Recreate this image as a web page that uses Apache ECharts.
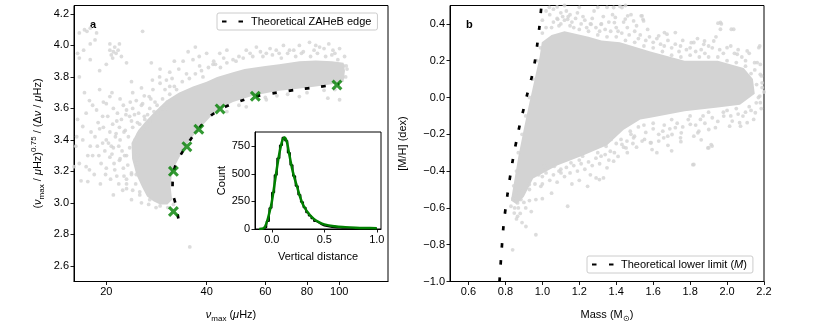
<!DOCTYPE html>
<html>
<head>
<meta charset="utf-8">
<script src="https://cdn.jsdelivr.net/npm/echarts@6/dist/echarts.min.js"></script>
<style>
  html, body { margin: 0; padding: 0; background: #fff; }
  #chart { width: 831px; height: 332px; }
</style>
</head>
<body>
<div id="chart"></div>
<script>
// panel a: nu_max (log) vs (nu_max)^0.75 / dnu
const edgeA = [[32.9, 2.90], [32.4, 2.98], [31.6, 3.08], [31.7, 3.17], [32.4, 3.25], [34.0, 3.33], [36.0, 3.41],
  [38.5, 3.49], [41.5, 3.56], [45.5, 3.61], [51, 3.65], [57, 3.68], [65, 3.70], [75, 3.72], [86, 3.735], [100, 3.755]];
const crossesA = [[31.8, 2.945], [31.8, 3.20], [34.9, 3.357], [37.9, 3.468], [43.9, 3.597], [56.0, 3.677], [98.4, 3.749]];
// outline of the solid part of the cloud
const coreA = [[27.7, 3.01], [29, 2.99], [30.5, 2.99], [31.5, 3.02], [31.2, 3.1], [31.4, 3.17], [32.4, 3.25],
  [33.9, 3.33], [35.9, 3.41], [38.4, 3.48], [41.2, 3.55], [43.8, 3.60], [48, 3.64], [55, 3.68], [65, 3.71],
  [75, 3.725], [85, 3.74], [96, 3.755], [103, 3.77], [104, 3.84], [103, 3.89], [95, 3.90], [85, 3.905], [76, 3.90],
  [66, 3.88], [60, 3.87], [52, 3.85], [48, 3.83], [43, 3.80], [40, 3.77], [36.4, 3.74], [33, 3.70], [30.3, 3.65],
  [28, 3.58], [26.3, 3.52], [24.9, 3.46], [23.8, 3.38], [23.9, 3.28], [24.6, 3.18], [25.6, 3.1], [26.5, 3.04]];
const sparseA = [[16.6, 4.08], [17.2, 4.10], [17.5, 4.09], [17.9, 4.11], [18.7, 4.08], [18.5, 4.035], [17.9, 4.01],
  [17.1, 3.97], [16.4, 3.95], [16.6, 3.92], [17.9, 3.91], [19.1, 3.84], [20.5, 3.97], [21.2, 3.99], [21.4, 3.95],
  [22.2, 3.93], [20.9, 3.92], [23.0, 3.89], [20.0, 3.88], [21.9, 4.01], [20.5, 4.01], [21.0, 3.96], [21.7, 3.97],
  [20.7, 3.94], [25.7, 4.09], [23.8, 3.77], [16.6, 3.80], [19.1, 3.72], [20.5, 3.675], [17.8, 3.65], [17.4, 3.57],
  [18.7, 3.59], [20, 3.63], [17.0, 3.485], [17.9, 3.36], [16.6, 3.25], [17.4, 3.23], [17.6, 3.135], [17.8, 3.21],
  [19.1, 3.47], [20, 3.40], [20.7, 3.36], [21.4, 3.44], [22.2, 3.53], [23.0, 3.59], [24.6, 3.65], [25.7, 3.63],
  [24.8, 3.51], [26.1, 3.53], [20.5, 3.29], [21.9, 3.27], [21.2, 3.21], [23.0, 3.15], [23.8, 3.18], [24.6, 3.25],
  [23.0, 3.09], [26.9, 3.675], [27.6, 3.72], [27.3, 3.89], [28.9, 3.80], [30.3, 3.78], [31.0, 3.74], [32.5, 3.72],
  [34.8, 3.82], [35.2, 3.96], [36.4, 3.91], [38.1, 3.87], [39.0, 3.80], [41.8, 3.88], [43.8, 3.95], [48.0, 3.91],
  [52.6, 3.97], [56.4, 3.99], [60.4, 3.95], [64.7, 3.97], [70.9, 3.97], [75.9, 4.00], [81.4, 4.02], [87.3, 3.99],
  [95.7, 3.97], [100.2, 3.98], [103.7, 3.93], [104.9, 3.87], [102.6, 3.80], [92.4, 3.665], [100.2, 3.655],
  [60.4, 3.655], [52.6, 3.61], [75.9, 3.675], [48.0, 3.76], [35.6, 2.72], [25.2, 3.07], [23.8, 3.02], [16.0, 3.23],
  [16.2, 3.36], [16.4, 3.53], [33, 3.85], [38, 3.93], [42, 3.90], [45, 3.92], [31, 3.83], [29, 3.76], [44, 3.86],
  [50, 3.93], [58, 3.96], [66, 3.95], [78, 3.96], [84, 3.97], [90, 3.98], [97, 3.95],
  [104.5, 3.80], [105.5, 3.85], [30, 3.6], [28.5, 3.57], [27, 3.52], [26.5, 3.47], [25, 3.44], [24.4, 3.40],
  [23.5, 3.35], [23, 3.30], [23.2, 3.24], [23.8, 3.19], [24.5, 3.12], [25.2, 3.05], [27, 3.02], [29, 2.98],
  [26.8, 2.99], [21, 3.35], [22, 3.40], [22.8, 3.46], [21.5, 3.52], [23.5, 3.55], [24, 3.48], [20.5, 3.45],
  [19.5, 3.38], [19, 3.30], [20, 3.22], [21.5, 3.17], [22.5, 3.22], [22, 3.28], [23, 3.12], [24, 3.08],
  [18.5, 3.42], [19.5, 3.55], [21, 3.60], [22.5, 3.62], [24, 3.60], [25, 3.57], [26, 3.55], [27, 3.6], [28, 3.64],
  [29.5, 3.66], [31, 3.69], [26, 3.68], [24, 3.70],
  [18.2, 3.30], [18.8, 3.36], [19.3, 3.25], [19.8, 3.33], [20.3, 3.38], [20.8, 3.31], [21.3, 3.42], [21.8, 3.36],
  [22.3, 3.33], [22.6, 3.45], [21.9, 3.48], [20.9, 3.50], [20.2, 3.55], [19.6, 3.48], [18.9, 3.51], [19.9, 3.18],
  [20.6, 3.15], [21.8, 3.12], [22.6, 3.17], [21.1, 3.25], [22.7, 3.30], [23.3, 3.42], [23.8, 3.52], [22.9, 3.56],
  [21.6, 3.57], [24.3, 3.56], [25.2, 3.50], [25.8, 3.47], [26.6, 3.56], [27.8, 3.58], [28.4, 3.62], [29.2, 3.60],
  [30.5, 3.64], [27.2, 3.66], [25.5, 3.62], [23.6, 3.64], [22.0, 3.66], [20.8, 3.70], [19.6, 3.64], [18.2, 3.62],
  [17.2, 3.70], [17.0, 3.40], [18.0, 3.45], [18.4, 3.18], [19.2, 3.12], [17.6, 3.30], [16.8, 3.14], [16.3, 3.42],
  [22.4, 3.08], [21.0, 3.05], [24.8, 3.30], [24.6, 3.18], [25.5, 3.0], [28.2, 2.97], [30.6, 2.97], [31.8, 2.99],
  [32, 3.74], [33.8, 3.77], [35.5, 3.79], [37, 3.82], [38.6, 3.84], [40.5, 3.86], [42.5, 3.88], [46, 3.89],
  [49, 3.9], [51.5, 3.92], [55, 3.93], [59, 3.93], [63, 3.94], [67, 3.92], [70, 3.95], [74, 3.93], [77, 3.95],
  [82, 3.93], [86, 3.95], [91, 3.93], [95, 3.94], [99, 3.91], [103, 3.87], [31.5, 3.79], [30, 3.72], [34, 3.9],
  [40, 3.95], [46, 3.97], [54, 3.95], [62, 3.98], [68, 4.0], [73, 3.97], [85, 4.0], [93, 4.01], [27.5, 3.78],
  [25.5, 3.73], [29, 3.85], [32, 3.9], [37, 3.99], [60, 3.67], [70, 3.69], [80, 3.70], [90, 3.715], [97, 3.72],
  [65, 3.68], [50, 3.62], [46, 3.58]];

// inset: vertical distance histogram and fit
const histEdges = [-0.1, -0.075, -0.05, -0.025, 0, 0.025, 0.05, 0.075, 0.1, 0.125, 0.15, 0.175, 0.2, 0.225, 0.25,
  0.275, 0.3, 0.325, 0.35, 0.375, 0.4, 0.425, 0.45, 0.475, 0.5, 0.525, 0.55, 0.575, 0.6, 0.625, 0.65, 0.675, 0.7,
  0.725, 0.75, 0.775, 0.8, 0.825, 0.85, 0.875, 0.9, 0.925, 0.95, 0.975, 1.0];
const histCounts = [3, 15, 70, 190, 330, 490, 640, 760, 830, 800, 690, 580, 480, 390, 310, 245, 195, 150, 120, 95,
  70, 55, 40, 30, 25, 20, 16, 14, 12, 11, 10, 9, 8, 8, 7, 7, 6, 6, 5, 5, 5, 4, 4, 4];
const fitX = [-0.12, -0.08, -0.05, -0.02, 0.0, 0.025, 0.05, 0.075, 0.1, 0.12, 0.14, 0.16, 0.18, 0.2, 0.22, 0.24,
  0.27, 0.3, 0.35, 0.4, 0.45, 0.5, 0.6, 0.7, 0.8, 0.9, 1.0];
const fitY = [0, 5, 55, 160, 245, 400, 560, 700, 800, 830, 800, 710, 610, 520, 450, 385, 290, 215, 140, 92, 62, 42,
  25, 17, 12, 9, 7];

// panel b: mass vs [M/H]
const limitB = [[0.768, -1.0], [0.789, -0.706], [0.811, -0.528], [0.84, -0.34], [0.876, -0.156], [0.898, -0.065],
  [0.919, 0.021], [0.943, 0.113], [0.961, 0.204], [0.973, 0.293], [0.984, 0.384], [0.995, 0.5]];
const coreB = [[0.83, -0.56], [0.85, -0.44], [0.87, -0.32], [0.9, -0.17], [0.925, -0.05], [0.945, 0.04], [0.965, 0.13],
  [0.985, 0.22], [0.997, 0.3], [1.05, 0.34], [1.12, 0.36], [1.25, 0.33], [1.32, 0.31], [1.42, 0.3], [1.585, 0.25],
  [1.77, 0.2], [1.95, 0.2], [2.09, 0.16], [2.14, 0.1], [2.15, 0.02], [2.07, -0.04], [1.95, -0.055], [1.77, -0.075],
  [1.585, -0.11], [1.53, -0.12], [1.44, -0.175], [1.35, -0.26], [1.22, -0.315], [1.08, -0.37], [0.95, -0.44],
  [0.9, -0.54], [0.86, -0.58]];
const sparseB = [[1.038, 0.49], [1.08, 0.492], [1.2, 0.49], [1.35, 0.49], [1.386, 0.489], [1.431, 0.489],
  [1.137, 0.425], [1.083, 0.425], [1.264, 0.398], [1.318, 0.398], [1.462, 0.444], [1.535, 0.444], [1.545, 0.425],
  [1.39, 0.407], [1.661, 0.353], [1.951, 0.404], [2.023, 0.371], [1.969, 0.4], [1.806, 0.298], [1.878, 0.307],
  [2.177, 0.28], [2.149, 0.189], [2.186, 0.117], [2.177, 0.008], [2.158, -0.029], [2.068, -0.137], [2.086, -0.101],
  [2.014, -0.156], [1.896, -0.274], [1.914, -0.256], [1.842, -0.192], [1.815, -0.365], [1.752, -0.192],
  [1.679, -0.21], [1.652, -0.183], [1.589, -0.246], [1.553, -0.228], [1.499, -0.21], [1.453, -0.274],
  [1.426, -0.228], [1.372, -0.228], [1.345, -0.265], [1.318, -0.319], [1.291, -0.437], [1.309, -0.446],
  [1.245, -0.483], [1.218, -0.319], [1.155, -0.355], [1.101, -0.41], [1.065, -0.374], [1.137, -0.591],
  [1.01, -0.374], [0.992, -0.483], [0.965, -0.555], [0.929, -0.473], [0.893, -0.51], [0.866, -0.573],
  [0.848, -0.628], [0.866, -0.646], [0.884, -0.555], [0.839, -0.828], [0.965, -0.746], [0.911, -0.701],
  [0.83, -0.591], [0.857, -0.519], [1.395, 0.435], [1.449, 0.426], [1.494, 0.416], [1.54, 0.444], [1.548, 0.416],
  [1.63, 0.335], [1.675, 0.344], [1.72, 0.353], [1.748, 0.28], [1.82, 0.299], [1.874, 0.289], [1.928, 0.307],
  [1.964, 0.408], [1.964, 0.371], [2.036, 0.371], [2.0, 0.271], [2.055, 0.235], [2.109, 0.253], [2.172, 0.271],
  [2.163, 0.19], [2.18, 0.126], [2.19, 0.054], [2.18, -0.028], [2.153, -0.083], [2.144, -0.119], [2.109, -0.137],
  [2.073, -0.156], [2.028, -0.128], [1.982, -0.101], [1.937, -0.164], [1.901, -0.174], [1.856, -0.119],
  [1.847, -0.183], [1.82, -0.21], [1.801, -0.146], [1.748, -0.219], [1.72, -0.164], [1.702, -0.201],
  [1.657, -0.219], [1.63, -0.237], [1.594, -0.283], [1.585, -0.246], [1.54, -0.237], [1.494, -0.219],
  [1.458, -0.237], [1.431, -0.255], [1.476, -0.183], [1.901, -0.273], [1.919, -0.264], [1.82, -0.364],
  [1.368, -0.292], [1.386, -0.346], [1.35, -0.382], [1.331, -0.437],
  [1.0, 0.42], [1.02, 0.38], [1.04, 0.45], [1.06, 0.41], [1.08, 0.43], [1.1, 0.46], [1.12, 0.42], [1.14, 0.44],
  [1.16, 0.41], [1.18, 0.43], [1.21, 0.4], [1.23, 0.42], [1.26, 0.4], [1.29, 0.38], [1.32, 0.4], [1.34, 0.37],
  [1.37, 0.36], [1.4, 0.38], [1.43, 0.35], [1.47, 0.34], [1.5, 0.36], [1.52, 0.32], [1.56, 0.31], [1.6, 0.3],
  [1.66, 0.28], [1.7, 0.27], [1.78, 0.26], [1.86, 0.26], [1.9, 0.28], [1.96, 0.26], [2.04, 0.24], [2.08, 0.22],
  [1.0, 0.35], [1.05, 0.38], [1.1, 0.4], [1.15, 0.39], [1.2, 0.37], [1.25, 0.36], [1.3, 0.34], [1.35, 0.33],
  [1.4, 0.33], [1.45, 0.31], [1.5, 0.3], [1.55, 0.28], [1.6, 0.27], [1.65, 0.25], [1.7, 0.23], [1.75, 0.22],
  [1.8, 0.23], [1.85, 0.22], [1.9, 0.22], [1.95, 0.22], [2.0, 0.2], [2.05, 0.19], [2.1, 0.17], [2.13, 0.13],
  [2.16, 0.07], [2.17, 0.0], [2.12, -0.05], [2.05, -0.06], [2.0, -0.07], [1.9, -0.08], [1.8, -0.1], [1.7, -0.12],
  [1.6, -0.14], [1.55, -0.15], [1.48, -0.2], [1.4, -0.25], [1.3, -0.3], [1.2, -0.34], [1.1, -0.39], [1.0, -0.43],
  [0.93, -0.5], [0.9, -0.57], [0.87, -0.6], [0.85, -0.6], [0.84, -0.55],
  [1.02, 0.47], [1.06, 0.48], [1.09, 0.39], [1.11, 0.44], [1.13, 0.47], [1.15, 0.45], [1.17, 0.38], [1.19, 0.46],
  [1.22, 0.44], [1.24, 0.38], [1.27, 0.43], [1.28, 0.47], [1.31, 0.36], [1.33, 0.44], [1.36, 0.41], [1.38, 0.45],
  [1.41, 0.36], [1.44, 0.41], [1.46, 0.38], [1.48, 0.45], [1.51, 0.39], [1.53, 0.34], [1.57, 0.37], [1.58, 0.33],
  [1.62, 0.32], [1.64, 0.29], [1.68, 0.31], [1.72, 0.29], [1.74, 0.25], [1.76, 0.31], [1.8, 0.27], [1.83, 0.25],
  [1.84, 0.32], [1.88, 0.24], [1.92, 0.27], [1.94, 0.33], [1.98, 0.24], [2.02, 0.28], [2.06, 0.26], [2.1, 0.2],
  [2.12, 0.24], [2.15, 0.15], [2.18, 0.18], [2.19, 0.08], [2.2, 0.03], [2.185, -0.06],
  [1.52, -0.16], [1.56, -0.19], [1.6, -0.17], [1.63, -0.2], [1.66, -0.15], [1.69, -0.17], [1.73, -0.14],
  [1.76, -0.16], [1.79, -0.12], [1.83, -0.15], [1.87, -0.1], [1.88, -0.14], [1.92, -0.11], [1.95, -0.13],
  [1.98, -0.08], [2.02, -0.1], [2.06, -0.09], [2.1, -0.08], [2.13, -0.07], [1.75, -0.24], [1.68, -0.26],
  [1.62, -0.3], [1.7, -0.29], [1.86, -0.23],
  [0.96, -0.47], [0.98, -0.42], [1.0, -0.47], [1.02, -0.41], [1.04, -0.45], [1.06, -0.42], [1.08, -0.46],
  [1.09, -0.4], [1.12, -0.43], [1.13, -0.38], [1.15, -0.41], [1.17, -0.37], [1.19, -0.4], [1.21, -0.36],
  [1.23, -0.39], [1.25, -0.35], [1.27, -0.37], [1.29, -0.33], [1.31, -0.36], [1.34, -0.31], [1.36, -0.34],
  [1.39, -0.3], [1.41, -0.32], [1.44, -0.27], [1.46, -0.3], [1.49, -0.25], [1.51, -0.27], [1.16, -0.47],
  [1.2, -0.45], [1.26, -0.42], [1.05, -0.52], [0.93, -0.56], [0.91, -0.6], [0.88, -0.63], [0.86, -0.66],
  [0.89, -0.68], [0.94, -0.62], [1.0, -0.55],
  [0.93, 0.0], [0.95, 0.1], [0.97, 0.2], [0.99, 0.27], [0.91, -0.1], [0.89, -0.2], [0.87, -0.3], [0.86, -0.4],
  [0.845, -0.48], [1.12, 0.5], [1.3, 0.49], [1.42, 0.495], [1.45, 0.5]];

const ticksAx = [20, 40, 60, 80, 100];
const ticksAy = [2.6, 2.8, 3.0, 3.2, 3.4, 3.6, 3.8, 4.0, 4.2];
const ticksBx = [0.6, 0.8, 1.0, 1.2, 1.4, 1.6, 1.8, 2.0, 2.2];
const ticksBy = [-1.0, -0.8, -0.6, -0.4, -0.2, 0.0, 0.2, 0.4];
const ticksInX = [0, 0.5, 1.0];
const ticksInY = [0, 250, 500, 750];

const FONT = 'Liberation Sans';
const GRAY = '#d3d3d3';
const fmt1 = v => v.toFixed(1).replace('-', '\u2212');

function axis(grid, type, min, max, ticks, fmt, extra) {
    return Object.assign({
        type: type,
        gridIndex: grid,
        min: min,
        max: max,
        axisLine: { show: true, onZero: false, lineStyle: { color: '#000', width: 1 } },
        axisTick: { show: true, customValues: ticks, length: 3.5, lineStyle: { color: '#000', width: 0.9 } },
        axisLabel: { customValues: ticks, formatter: fmt, color: '#000', fontSize: 11, fontFamily: FONT, margin: 5 },
        splitLine: { show: false },
        nameTextStyle: { color: '#000', fontSize: 11, fontFamily: FONT }
    }, extra || {});
}

const richName = {
    t: { fontSize: 11, fontFamily: FONT, color: '#000', lineHeight: 16 },
    i: { fontSize: 11, fontFamily: FONT, color: '#000', fontStyle: 'italic', lineHeight: 16 },
    s: { fontSize: 8, fontFamily: FONT, color: '#000', verticalAlign: 'bottom', lineHeight: 12 },
    p: { fontSize: 8, fontFamily: FONT, color: '#000', verticalAlign: 'top', lineHeight: 10 }
};

const polygon = pts => (params, api) => ({
    type: 'polygon',
    shape: { points: pts.map(p => api.coord(p)) },
    style: { fill: GRAY }
});

const legendBase = {
    padding: [3, 6, 3, 4],
    itemWidth: 24, itemHeight: 10, itemGap: 6,
    borderColor: '#cccccc', borderWidth: 1, borderRadius: 2, backgroundColor: 'rgba(255,255,255,0.8)',
    itemStyle: { opacity: 0 }
};

const chart = echarts.init(document.getElementById('chart'), null, { renderer: 'canvas' });
chart.setOption({
    backgroundColor: '#fff',
    animation: false,
    textStyle: { fontFamily: FONT },
    grid: [
        { left: 74, top: 5.5, width: 314, height: 276, show: true, borderColor: '#000', borderWidth: 1, backgroundColor: 'transparent' },
        { left: 450, top: 5.5, width: 314, height: 276, show: true, borderColor: '#000', borderWidth: 1, backgroundColor: 'transparent' },
        { left: 255, top: 132, width: 126, height: 97, show: true, borderColor: '#000', borderWidth: 1, backgroundColor: '#fff' }
    ],
    xAxis: [
        axis(0, 'log', 16, 140, ticksAx, v => String(v), {
            logBase: 10,
            name: '{i|ν}{s|max}{t| (}{i|μ}{t|Hz)}',
            nameLocation: 'middle', nameGap: 25,
            nameTextStyle: { rich: richName }
        }),
        axis(1, 'value', 0.5, 2.2, ticksBx, fmt1, {
            name: '{t|Mass (M}{s|⊙}{t|)}',
            nameLocation: 'middle', nameGap: 25,
            nameTextStyle: { rich: richName }
        }),
        axis(2, 'value', -0.16, 1.04, ticksInX, fmt1, {
            name: 'Vertical distance', nameLocation: 'middle', nameGap: 22
        })
    ],
    yAxis: [
        axis(0, 'value', 2.5, 4.254, ticksAy, fmt1, {
            name: '{t|(}{i|ν}{s|max}{t| / }{i|μ}{t|Hz)}{p|0.75}{t| / (Δ}{i|ν}{t| / }{i|μ}{t|Hz)}',
            nameLocation: 'middle', nameGap: 28, nameRotate: 90,
            nameTextStyle: { rich: richName }
        }),
        axis(1, 'value', -1.0, 0.5, ticksBy, fmt1, {
            name: '[M/H] (dex)', nameLocation: 'middle', nameGap: 42, nameRotate: 90
        }),
        axis(2, 'value', 0, 879, ticksInY, v => String(v), {
            name: 'Count', nameLocation: 'middle', nameGap: 28, nameRotate: 90
        })
    ],
    legend: [
        Object.assign({}, legendBase, {
            data: ['Theoretical ZAHeB edge'],
            left: 217, top: 13,
            textStyle: { fontSize: 11, fontFamily: FONT, color: '#000' }
        }),
        Object.assign({}, legendBase, {
            data: ['Theoretical lower limit (M)'],
            left: 587, top: 256,
            formatter: () => 'Theoretical lower limit ({i|M})',
            textStyle: { fontSize: 11, fontFamily: FONT, color: '#000', rich: { i: { fontSize: 11, fontStyle: 'italic', fontFamily: FONT, color: '#000' } } }
        })
    ],
    graphic: [
        { type: 'text', left: 90, top: 19, style: { text: 'a', font: 'bold 11px ' + FONT, fill: '#000' } },
        { type: 'text', left: 466, top: 19, style: { text: 'b', font: 'bold 11px ' + FONT, fill: '#000' } }
    ],
    series: [
        {
            type: 'custom', xAxisIndex: 0, yAxisIndex: 0, data: [coreA[0]], silent: true, z: 1,
            renderItem: polygon(coreA)
        },
        {
            type: 'scatter', xAxisIndex: 0, yAxisIndex: 0, data: sparseA, symbolSize: 3.8, silent: true, z: 1,
            itemStyle: { color: GRAY }
        },
        {
            name: 'Theoretical ZAHeB edge', type: 'line', xAxisIndex: 0, yAxisIndex: 0, data: edgeA,
            smooth: 0.3, symbol: 'none', z: 3,
            itemStyle: { color: '#000' },
            lineStyle: { color: '#000', width: 2.7, type: [4.5, 12] }
        },
        {
            type: 'scatter', xAxisIndex: 0, yAxisIndex: 0, data: crossesA, z: 4,
            symbol: 'path://M0,2L2,0L5,3L8,0L10,2L7,5L10,8L8,10L5,7L2,10L0,8L3,5Z', symbolSize: 11,
            itemStyle: { color: '#008000' }
        },
        {
            type: 'custom', xAxisIndex: 1, yAxisIndex: 1, data: [coreB[0]], silent: true, z: 1,
            renderItem: polygon(coreB)
        },
        {
            type: 'scatter', xAxisIndex: 1, yAxisIndex: 1, data: sparseB, symbolSize: 3.8, silent: true, z: 1,
            itemStyle: { color: GRAY }
        },
        {
            name: 'Theoretical lower limit (M)', type: 'line', xAxisIndex: 1, yAxisIndex: 1, data: limitB,
            smooth: 0.3, symbol: 'none', z: 3,
            itemStyle: { color: '#000' },
            lineStyle: { color: '#000', width: 2.7, type: [4.5, 12.5] }
        },
        {
            type: 'line', xAxisIndex: 2, yAxisIndex: 2, step: 'end', symbol: 'none', z: 5,
            data: histEdges.map((e, i) => [e, i < histCounts.length ? histCounts[i] : histCounts[histCounts.length - 1]]),
            lineStyle: { color: '#000', width: 1.5 }
        },
        {
            type: 'line', xAxisIndex: 2, yAxisIndex: 2, symbol: 'none', smooth: 0.4, z: 6,
            data: fitX.map((x, i) => [x, fitY[i]]),
            lineStyle: { color: '#008000', width: 2.5 }
        }
    ]
});
</script>
</body>
</html>
